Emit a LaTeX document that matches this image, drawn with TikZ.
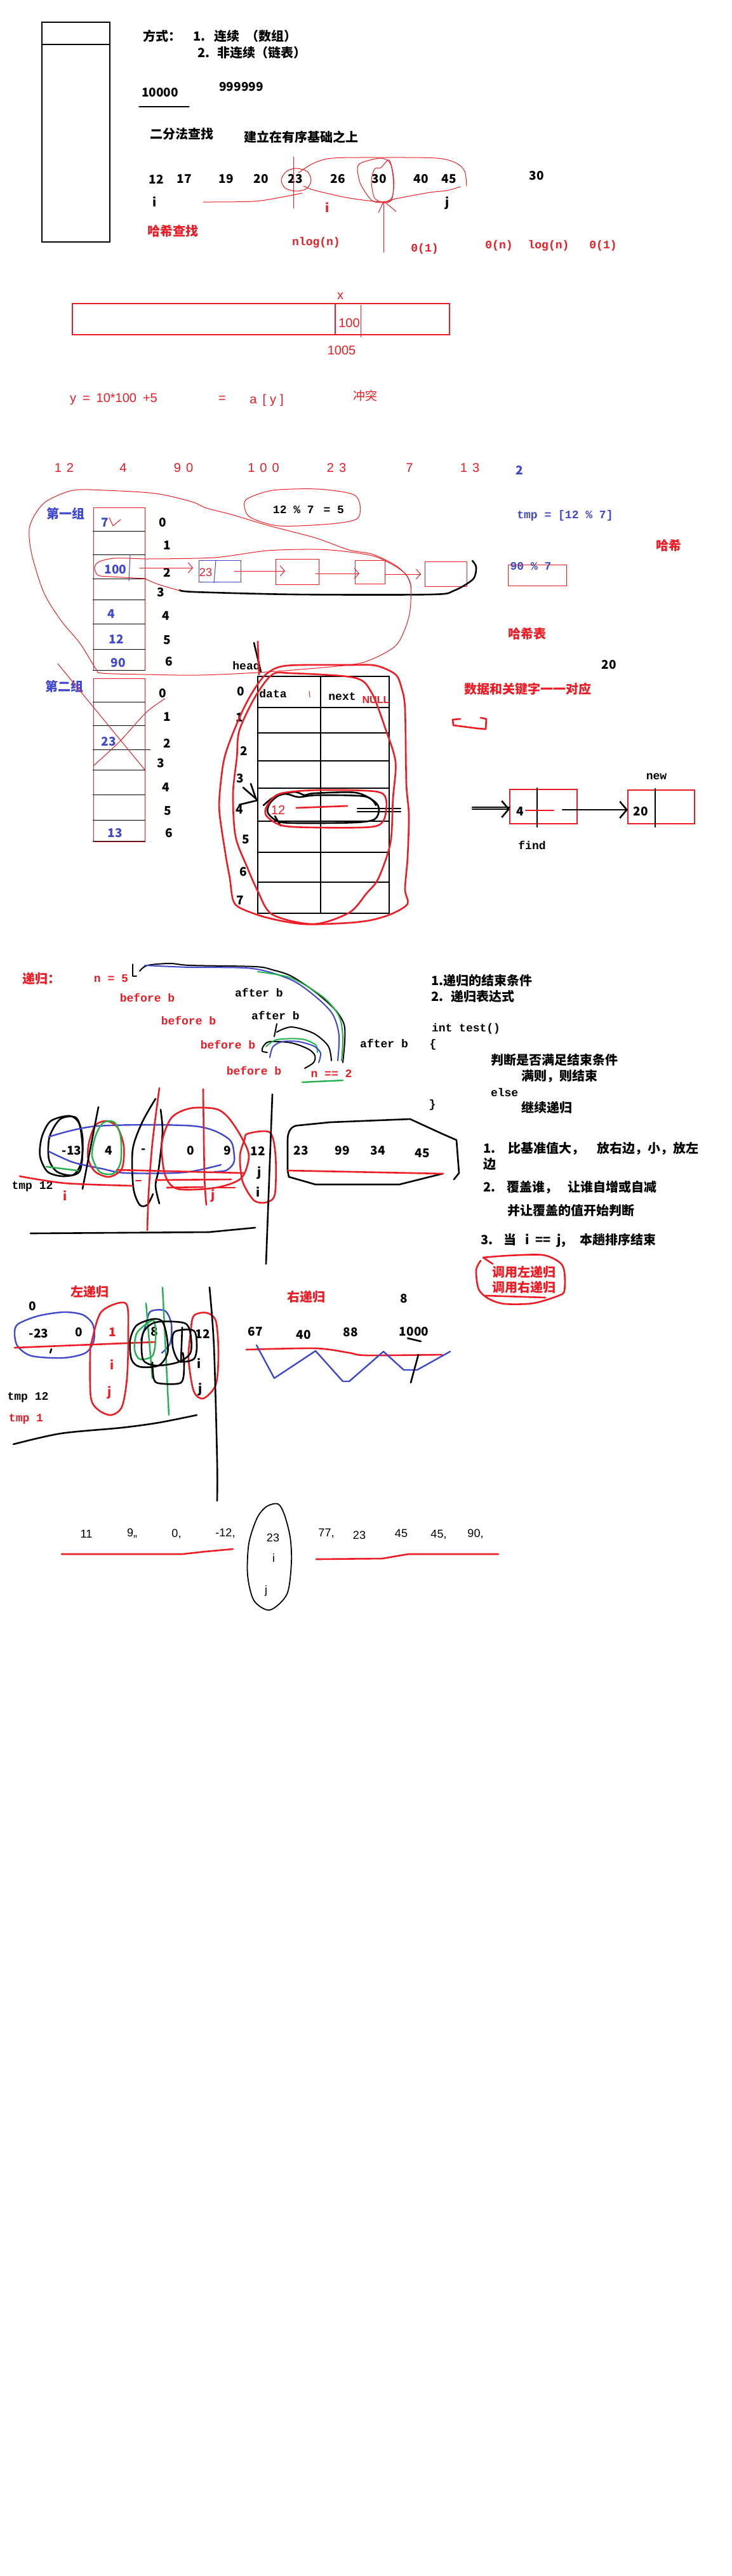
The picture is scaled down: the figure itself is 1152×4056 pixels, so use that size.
\documentclass[tikz,border=0pt]{standalone}
\usepackage{fontspec}
\setmainfont{Liberation Sans}
\newfontfamily\cjkf{Noto Sans CJK SC}
\newfontfamily\monof{Liberation Mono}
\usetikzlibrary{arrows.meta}
\definecolor{pr}{RGB}{237,28,36}
\definecolor{pb}{RGB}{63,72,204}
\definecolor{pg}{RGB}{34,177,76}
\tikzset{
 tx/.style={inner sep=0pt, outer sep=0pt},
 cn/.style={tx, font=\cjkf\bfseries\fontsize{20}{24}\selectfont},
 cnr/.style={tx, font=\cjkf\fontsize{19}{22}\selectfont},
 nm/.style={tx, font=\cjkf\bfseries\fontsize{19}{22}\selectfont},
 mo/.style={tx, font=\monof\bfseries\fontsize{18}{20}\selectfont},
 ar/.style={tx, font=\fontsize{18}{20}\selectfont},
 arl/.style={tx, font=\fontsize{20}{22}\selectfont},
 arb/.style={tx, font=\bfseries\fontsize{16}{18}\selectfont},
 sR1/.style={draw=pr, line width=1pt, line cap=round, line join=round},
 sR3/.style={draw=pr, line width=2.6pt, line cap=round, line join=round},
 sK1/.style={draw=black, line width=1.2pt, line cap=round},
 sK3/.style={draw=black, line width=2.6pt, line cap=round, line join=round},
 sB1/.style={draw=pb, line width=1pt},
 sB3/.style={draw=pb, line width=2.4pt, line cap=round, line join=round},
 sG3/.style={draw=pg, line width=2.4pt, line cap=round, line join=round},
 barb/.style={-{Straight Barb[length=7pt,width=16pt]}},
 kbarb/.style={-{Straight Barb[length=11pt,width=26pt]}},
}
\begin{document}
\begin{tikzpicture}[x=1pt,y=-1pt]
\useasboundingbox (0,0) rectangle (1152,4056);
\fill[white] (0,0) rectangle (1152,4056);

%% ================= Section 1 =================
\draw[black, line width=1.2pt] (66,35) rectangle (173,381);
\draw[black, line width=1.2pt] (66,70) -- (173,70);
\node[cn] (fs) at (255,57) {方式：};
\node[cn, anchor=west] (fs1) at (304,57) {1.\hspace{14pt}连续\hspace{10pt}（数组）};
\node[cn, anchor=west] (fs2) at (311,83) {2.\hspace{12pt}非连续（链表）};
\node[nm] (n10000) at (252,146) {10000};
\draw[sK1] (219,168) -- (298,168);
\node[nm] (n999) at (380,137) {999999};
\node[cn] (efcz) at (286,211) {二分法查找};
\node[cn] (jlzs) at (474,216) {建立在有序基础之上};
\foreach \v/\xx in {12/246,17/290,19/356,20/411,23/465,26/532,30/597,40/663,45/707}
  \node[nm] (b\v) at (\xx,282) {\v};
\node[nm] (b30b) at (845,277) {30};
\node[nm] (bi) at (244,318) {i};
\node[nm, text=pr] (bir) at (516,327) {i};
\node[nm] (bj) at (705,320) {j};
\node[cn, text=pr] (hxcz) at (272,364) {哈希查找};
\node[mo, text=pr] (nlog) at (498,382) {nlog(n)};
\node[mo, text=pr] (o1a) at (669,392) {0(1)};
\node[mo, text=pr] (on) at (786,387) {0(n)};
\node[mo, text=pr] (logn) at (864,387) {log(n)};
\node[mo, text=pr] (o1b) at (950,387) {0(1)};
% red scribbles
\draw[sR1] (462,247) -- (462,328);
\draw[sR1] plot[smooth cycle] coordinates {(466,265)(484,270)(490,284)(483,297)(466,301)(449,296)(443,283)(451,270)};
\draw[sR1] plot[smooth] coordinates {(320,318)(400,317)(446,310)(476,304)};
\draw[sR1] plot[smooth] coordinates {(470,272)(494,257)(524,249)(600,248)(688,249)(719,257)(732,270)(735,293)};
\draw[sR1] plot[smooth] coordinates {(725,294)(704,300)(677,303)(623,313)(604,318)(551,312)(497,300)(478,293)};
\draw[sR1] plot[smooth cycle] coordinates {(570,256)(600,249)(615,258)(620,290)(616,316)(600,319)(585,315)(568,290)(563,265)};
\draw[sR1] plot[smooth cycle] coordinates {(600,264)(613,252)(620,280)(618,310)(605,318)(590,312)(585,285)(590,266)};
\draw[sR1] (604,317) -- (604,397);
\draw[sR1] (604,318) -- (596,335);
\draw[sR1] (606,318) -- (624,333);

%% ================= Section 2 =================
\draw[draw=pr, line width=1.4pt] (114,478) rectangle (708,527);
\draw[draw=pr, line width=1.2pt] (528,478) -- (528,527);
\draw[draw=pr, line width=0.8pt] (568,480) -- (568,531);
\node[arl, text=pr] (ax) at (536,466) {x};
\node[arl, text=pr] (a100) at (550,509) {100};
\node[arl, text=pr] (a1005) at (538,552) {1005};
\node[arl, text=pr, anchor=west] (yeq) at (110,629) {y\hspace{10pt}=\hspace{10pt}10*100\hspace{10pt}+5};
\node[arl, text=pr] (eq) at (350,629) {=};
\node[arl, text=pr] (ay) at (420,630) {a\hspace{9pt}[\hspace{6pt}y\hspace{6pt}]};
\node[cnr, text=pr] (ct) at (575,623) {冲突};

%% ================= Section 3 =================
\node[arl, text=pr] (r12) at (101,737) {1\hspace{8pt}2};
\node[arl, text=pr] (r4) at (194,737) {4};
\node[arl, text=pr] (r90) at (289,737) {9\hspace{8pt}0};
\node[arl, text=pr] (r100) at (415,737) {1\hspace{8pt}0\hspace{8pt}0};
\node[arl, text=pr] (r23) at (530,737) {2\hspace{8pt}3};
\node[arl, text=pr] (r7) at (645,737) {7};
\node[arl, text=pr] (r13) at (740,737) {1\hspace{8pt}3};
\node[nm, text=pb] (r2) at (818,740) {2};

\node[cn, text=pb] (g1) at (103,809) {第一组};
\node[mo] (mod1) at (486,803) {12 \% 7 \hspace{4pt}= 5};
\draw[sR1] plot[smooth cycle] coordinates {(390,785)(430,772)(500,770)(555,778)(567,795)(562,817)(520,825)(440,828)(395,815)(385,798)};
\node[mo, text=pb] (tmp) at (890,812) {tmp = [12 \% 7]};
\node[cn, text=pr] (hx) at (1053,859) {哈希};

% table 1
\draw[draw=pr, line width=1pt] (147,799) rectangle (228,1055);
\foreach \yy in {836,873,911,944,982,1022,1055}
  \draw[black, line width=1pt] (146,\yy) -- (229,\yy);
\foreach \k/\xx/\yy in {0/256/823,1/263/859,2/263/901,3/253/933,4/261/970,5/263/1008,6/266/1042}
  \node[nm] (ia\k) at (\xx,\yy) {\k};
\node[nm, text=pb] (v7) at (165,823) {7};
\draw[sR1] (172,815) -- (178,828) -- (190,818);
\node[nm, text=pb] (v100) at (182,897) {100};
\node[nm, text=pb] (v4) at (175,967) {4};
\node[nm, text=pb] (v12) at (183,1006) {12};
\node[nm, text=pb] (v90) at (186,1044) {90};
\draw[sB1] (205,873) -- (203,915);
\draw[sR1] plot[smooth] coordinates {(228,880)(180,879)(155,885)(149,895)(155,906)(175,908)(230,911)};

% linked list
\node[tx, draw=pb, line width=1pt, minimum width=66pt, minimum height=34pt] (L1) at (346,899) {};
\node[ar, text=pr] (l23) at (324,901) {23};
\draw[sB1] (340,882) -- (337,918);
\node[tx, draw=pr, line width=1pt, minimum width=68pt, minimum height=40pt] (L2) at (468,900) {};
\node[tx, draw=pr, line width=1pt, minimum width=47pt, minimum height=37pt] (L3) at (582.5,900.5) {};
\node[tx, draw=pr, line width=1pt, minimum width=66pt, minimum height=39pt] (L4) at (702,903.5) {};
\coordinate (c100) at (220,894);
\coordinate (c23) at (369,899);
\coordinate (cL2) at (497,903);
\coordinate (cL3) at (606,904);
\draw[sR1, barb] (c100) -- ([xshift=-9pt]L1.west |- c100);
\draw[sR1, barb] (c23) -- ([xshift=15pt]L2.west |- c23);
\draw[sR1, barb] (cL2) -- ([xshift=7pt]L3.west |- cL2);
\draw[sR1, barb] (cL3) -- ([xshift=-6pt]L4.west |- cL3);
\draw[sK3] plot[smooth] coordinates {(283,929)(306,932)(467,936)(679,936)(715,930)(745,912)(750,893)(744,883)};
\node[tx, draw=pr, line width=1pt, minimum width=92pt, minimum height=33pt] (m90) at (846,905.5) {};
\node[mo, text=pb] (t90) at (836,892) {90 \% 7};

\draw[sR1] plot[smooth cycle] coordinates {(75,788)(115,772)(165,772)(245,777)(302,790)(325,800)(364,810)(421,827)(497,847)(550,866)(588,873)(627,893)(646,917)(646,960)(638,990)(623,1017)(588,1037)(550,1047)(421,1058)(314,1063)(230,1062)(161,1060)(151,1053)(126,1013)(96,977)(69,933)(50,873)(46,833)(57,807)};
\draw[sR1] plot[smooth] coordinates {(228,911)(249,920)(283,930)};
\draw[sR1] plot[smooth] coordinates {(230,880)(337,878)(421,867)(500,865)(550,869)(590,876)(620,890)(640,905)(648,925)};

\node[cn, text=pr] (hxb) at (830,998) {哈希表};
\node[nm] (n20) at (959,1047) {20};
\node[cn, text=pr] (sjgj) at (831,1085) {数据和关键字一一对应};

% table 2
\node[cn, text=pb] (g2) at (101,1081) {第二组};
\draw[draw=pr, line width=1pt] (147,1068) rectangle (228,1325);
\foreach \yy in {1105,1142,1212,1251,1291,1324}
  \draw[black, line width=1pt] (146,\yy) -- (229,\yy);
\draw[black, line width=1pt] (146,1180) -- (237,1180);
\foreach \k/\xx/\yy in {0/256/1092,1/263/1129,2/263/1170,3/253/1202,4/261/1240,5/264/1277,6/266/1312}
  \node[nm] (ib\k) at (\xx,\yy) {\k};
\node[nm, text=pb] (w23) at (171,1168) {23};
\node[nm, text=pb] (w13) at (181,1312) {13};
\draw[sR1] (91,1045) -- (228,1212);
\draw[sR1] plot[smooth] coordinates {(147,1206)(188,1168)(230,1122)(260,1100)};

% black hash table
\node[mo] (head) at (388,1048) {head};
\foreach \yy in {1065,1114,1154,1198,1241,1293,1342,1389,1438}
  \draw[sK3] (406,\yy) -- (613,\yy);
\foreach \xx in {406,505,613}
  \draw[sK3] (\xx,1065) -- (\xx,1438);
\foreach \k/\xx/\yy in {0/379/1089,1/377/1130,2/384/1182,3/378/1226,4/377/1275,5/387/1322,6/383/1373,7/378/1418}
  \node[nm] (ic\k) at (\xx,\yy) {\k};
\node[mo] (data) at (430,1092) {data};
\node[mo] (next) at (539,1097) {next};
\node[arb, text=pr] (null) at (592,1102) {NULL};
\draw[sR1] (487,1088) -- (488,1098);
\draw[sK3] (400,1012) -- (411,1058);
\draw[sR3] (406,1010) -- (408,1062);
% row 4 scribbles
\draw[sK3] plot[smooth cycle] coordinates {(425,1265)(440,1252)(465,1247)(480,1252)(495,1249)(560,1248)(590,1262)(597,1275)(590,1290)(560,1295)(480,1296)(440,1294)(422,1280)};
\draw[sK3] plot[smooth] coordinates {(415,1268)(430,1256)(450,1250)(470,1255)(500,1252)(575,1254)(592,1268)};
\draw[sK3] (563,1273) -- (631,1273);
\draw[sK3] (563,1278) -- (631,1278);
\draw[sK3] (383,1240) -- (406,1260);
\draw[sK3] (395,1234) -- (403,1257);
\draw[sK3] (377,1267) -- (406,1260);
\draw[sK3] (433,1285) -- (442,1300);
\draw[sR3] plot[smooth cycle] coordinates {(420,1270)(440,1250)(500,1244)(590,1246)(608,1258)(605,1290)(585,1302)(500,1303)(445,1300)(420,1285)};
\node[arl, text=pr] (c12) at (438,1275) {12};
\draw[sR3] (467,1272) -- (547,1269);
% big red loops
\draw[sR3] plot[smooth cycle] coordinates {(421,1060)(452,1048)(550,1047)(592,1048)(623,1062)(633,1085)(638,1117)(640,1233)(644,1283)(642,1350)(638,1400)(642,1423)(619,1438)(588,1448)(550,1453)(478,1455)(421,1445)(379,1430)(367,1417)(362,1383)(356,1350)(346,1283)(346,1250)(352,1200)(362,1167)(383,1117)(402,1083)};
\draw[sR3] plot[smooth cycle] coordinates {(429,1062)(459,1060)(558,1067)(585,1090)(608,1150)(623,1200)(619,1257)(615,1327)(596,1383)(577,1407)(550,1437)(494,1455)(429,1440)(406,1403)(390,1367)(371,1317)(367,1250)(373,1193)(377,1150)(402,1097)};

% small bracket
\draw[sR3] (725,1132) -- (713,1133) -- (714,1142) -- (753,1147) -- (765,1148) -- (766,1132) -- (757,1130);

% find / new nodes
\node[tx, draw=pr, line width=2.5pt, minimum width=106pt, minimum height=54pt] (B4) at (856,1270) {};
\draw[sK3] (846,1241) -- (846,1302);
\node[nm] (v4b) at (819,1278) {4};
\draw[sR3] (828,1276) -- (872,1276);
\node[mo] (find) at (838,1331) {find};
\node[tx, draw=pr, line width=2.5pt, minimum width=105pt, minimum height=53pt] (B20) at (1041.5,1270.5) {};
\draw[sK3] (1032,1242) -- (1032,1302);
\node[nm] (v20b) at (1009,1278) {20};
\node[mo] (new) at (1034,1223) {new};
\coordinate (in4) at (744,1274);
\draw[sK3] ([yshift=3pt]in4) -- ([yshift=3pt]B4.west |- in4);
\draw[sK3, kbarb] (in4) -- (B4.west |- in4);
\coordinate (o4) at (886,1275);
\draw[sK3, kbarb] (o4) -- (B20.west |- o4);

%% ================= Section 4 =================
\node[cn, text=pr] (dg) at (65,1541) {递归：};
\node[mo, text=pr] (n5) at (175,1541) {n = 5};
\node[mo, text=pr] (bb1) at (232,1571) {before b};
\node[mo, text=pr] (bb2) at (297,1607) {before b};
\node[mo, text=pr] (bb3) at (359,1645) {before b};
\node[mo, text=pr] (bb4) at (400,1686) {before b};
\node[mo, text=pr] (n2) at (522,1690) {n == 2};
\node[mo] (ab1) at (408,1563) {after b};
\node[mo] (ab2) at (434,1599) {after b};
\node[mo] (ab3) at (605,1643) {after b};
\draw[sK3, line width=2pt] (209,1518) -- (209,1537) -- (215,1537);
\draw[sK3, line width=2pt] plot[smooth] coordinates {(220,1529)(232,1520)(268,1517)(300,1520)(402,1522)(429,1527)(459,1537)(498,1563)(528,1590)(542,1613)(543,1640)(540,1673)};
\draw[sB3, line width=2pt] plot[smooth] coordinates {(228,1520)(298,1523)(398,1525)(459,1543)(498,1570)(524,1597)(534,1630)(532,1670)};
\draw[sG3, line width=2pt] plot[smooth] coordinates {(406,1530)(459,1540)(509,1570)(534,1600)(540,1633)(538,1670)};
\draw[sK3, line width=2pt] (436,1612) -- (432,1632);
\draw[sK3, line width=2pt] plot[smooth] coordinates {(436,1625)(459,1617)(494,1627)(517,1647)(522,1670)};
\draw[sK3, line width=2pt] plot[smooth] coordinates {(480,1682)(494,1673)(496,1662)(486,1652)(459,1642)(425,1640)(415,1647)(413,1655)(421,1657)};
\draw[sG3, line width=2pt] plot[smooth] coordinates {(419,1648)(436,1637)(475,1636)(497,1645)(500,1657)};
\draw[sB3, line width=2pt] plot[smooth] coordinates {(425,1665)(430,1648)(445,1640)(470,1640)(494,1647)(505,1658)(502,1673)};
\draw[sG3] (476,1704) -- (540,1701);

% quick sort row
\foreach \nm/\v/\xx in {q1/-13/113,q2/4/171,q3/-/226,q4/0/300,q5/9/358,q6/12/406,q7/23/474,q8/99/539,q9/34/595}
  \node[nm] (\nm) at (\xx,1812) {\v};
\node[nm] (q10) at (665,1816) {45};
\node[nm] (qj) at (409,1847) {j};
\node[nm] (qi) at (407,1877) {i};
\node[mo] (tmp12) at (51,1868) {tmp 12};
\node[nm, text=pr] (qir) at (103,1883) {i};
\node[nm, text=pr] (qjr) at (336,1883) {j};
\draw[sK3] plot[smooth cycle] coordinates {(66,1790)(80,1765)(110,1757)(125,1770)(130,1810)(125,1845)(100,1852)(75,1845)(63,1820)};
\draw[sK3] plot[smooth cycle] coordinates {(78,1790)(95,1762)(120,1760)(130,1790)(128,1830)(115,1850)(90,1845)(77,1825)};
\draw[sG3] (73,1837) -- (122,1843);
\draw[sB3] plot[smooth] coordinates {(77,1790)(153,1773)(306,1773)(360,1793)(369,1820)(367,1833)(356,1843)(337,1845)};
\draw[sB3] plot[smooth] coordinates {(77,1813)(115,1830)(160,1840)(199,1847)(290,1846)(348,1834)};
\draw[sR3] plot[smooth cycle] coordinates {(140,1800)(150,1772)(168,1765)(185,1775)(195,1805)(192,1840)(172,1853)(150,1845)(139,1825)};
\draw[sG3] plot[smooth cycle] coordinates {(150,1790)(162,1768)(180,1767)(190,1790)(190,1830)(178,1848)(157,1845)(145,1820)};
\draw[sK3] plot[smooth] coordinates {(245,1730)(224,1767)(209,1810)(210,1870)(220,1897)(232,1897)(241,1880)};
\draw[sK3] plot[smooth] coordinates {(253,1747)(256,1783)(250,1840)(245,1867)(251,1895)};
\draw[sR3] plot[smooth cycle] coordinates {(270,1760)(300,1745)(340,1746)(360,1760)(380,1790)(392,1820)(380,1855)(340,1870)(280,1872)(260,1850)(255,1800)};
\draw[sR3] plot[smooth cycle] coordinates {(390,1785)(425,1783)(434,1820)(433,1880)(420,1893)(400,1890)(382,1860)(378,1820)(385,1795)};
\draw[sR3] plot[smooth] coordinates {(251,1713)(240,1800)(234,1880)(232,1937)};
\draw[sR3] plot[smooth] coordinates {(320,1715)(322,1850)(325,1897)};
\draw[sK3] (429,1723) -- (419,1990);
\draw[sK3] (155,1743) -- (130,1872);
\draw[sK3] (48,1942) -- (329,1940) -- (402,1933);
\draw[sR3] plot[smooth] coordinates {(31,1852)(103,1863)(209,1867)};
\draw[sR3] (184,1842) -- (383,1847);
\draw[sR3] (245,1858) -- (364,1857);
\draw[sR3] (263,1870) -- (320,1869);
\draw[sR3] (336,1870) -- (370,1870);
\draw[sR3] (214,1859) -- (222,1859);
\draw[sK3] (453,1843) -- (453,1795) .. controls (453,1780) and (460,1772) .. (470,1772) -- (520,1767) -- (646,1762) -- (696,1785) -- (719,1795) -- (723,1847) -- (715,1857);
\draw[sK3] (697,1848) -- (629,1865) -- (497,1865) -- (455,1853) -- (453,1843);
\draw[sR3] (453,1843) -- (698,1848);

% right text
\node[cn, anchor=west] (rt1) at (679,1544) {1.递归的结束条件};
\node[cn, anchor=west] (rt2) at (679,1569) {2.\hspace{12pt}递归表达式};
\node[mo, anchor=west] (it) at (680,1620) {int test()};
\node[mo] (lb) at (682,1645) {\{};
\node[cn, anchor=west] (pd) at (773,1669) {判断是否满足结束条件};
\node[cn, anchor=west] (mz) at (821,1694) {满则，则结束};
\node[mo, anchor=west] (el) at (773,1720) {else};
\node[mo] (rb) at (681,1740) {\}};
\node[cn, anchor=west] (jx) at (821,1744) {继续递归};
\node[cn, anchor=west] (p1) at (761,1808) {1.\hspace{20pt}比基准值大，\hspace{20pt}放右边，小，放左};
\node[cn, anchor=west] (p1b) at (761,1833) {边};
\node[cn, anchor=west] (p2) at (761,1869) {2.\hspace{18pt}覆盖谁，\hspace{16pt}让谁自增或自减};
\node[cn, anchor=west] (p2b) at (799,1906) {并让覆盖的值开始判断};
\node[cn, anchor=west] (p3) at (757,1953) {3.\hspace{17pt}当\hspace{14pt}i\hspace{10pt}==\hspace{10pt}j,\hspace{22pt}本趟排序结束};
\node[cn, text=pr] (dyl) at (825,2003) {调用左递归};
\node[cn, text=pr] (dyr) at (825,2027) {调用右递归};
\draw[sR3] plot[smooth] coordinates {(761,1980)(800,1977)(855,1976)(882,1988)(889,2003)(889,2032)(880,2040)(840,2052)(795,2053)(770,2045)(754,2030)(750,2000)(757,1985)};
\draw[sR3] (761,1980) -- (776,1990);
\draw[sR3] (765,2040) -- (859,2043);

%% ================= Section 5 =================
\node[cn, text=pr] (zdg) at (141,2034) {左递归};
\node[cn, text=pr] (ydg) at (482,2042) {右递归};
\node[nm] (z0) at (51,2057) {0};
\node[nm] (zm23) at (61,2100) {-23};
\node[nm] (z0b) at (124,2098) {0};
\node[nm, text=pr] (z1) at (177,2098) {1};
\node[nm] (z8) at (243,2097) {8};
\node[nm] (z12) at (319,2100) {12};
\node[nm, text=pr] (zi) at (177,2149) {i};
\node[nm, text=pr] (zj) at (173,2193) {j};
\node[nm] (zib) at (314,2147) {i};
\node[nm] (zjb) at (316,2188) {j};
\node[mo] (ztmp) at (44,2200) {tmp 12};
\node[mo, text=pr] (ztmp1) at (41,2234) {tmp 1};
\draw[sB3] plot[smooth cycle] coordinates {(28,2085)(60,2072)(100,2066)(130,2070)(146,2085)(148,2110)(135,2130)(100,2138)(50,2135)(28,2120)(23,2100)};
\draw[sK3] (81,2124) -- (79,2130);
\draw[sR3] (23,2122) -- (245,2113);
\draw[sR3] plot[smooth cycle] coordinates {(145,2110)(160,2065)(198,2052)(202,2100)(200,2170)(192,2215)(175,2228)(155,2220)(143,2200)(142,2130)};
\draw[sR3] plot[smooth cycle] coordinates {(305,2072)(325,2067)(340,2080)(344,2130)(340,2180)(320,2202)(305,2190)(297,2140)(300,2100)};
\draw[sB3] plot[smooth] coordinates {(222,2110)(230,2085)(237,2065)(260,2064)(270,2085)(268,2115)(255,2130)};
\draw[sG3] plot[smooth cycle] coordinates {(215,2100)(230,2085)(243,2080)(245,2110)(240,2135)(220,2140)(212,2125)};
\draw[sG3] (230,2052) -- (240,2170);
\draw[sG3] (256,2027) -- (266,2228);
\draw[sK3] plot[smooth cycle] coordinates {(205,2110)(215,2087)(240,2077)(255,2080)(262,2100)(264,2130)(250,2150)(220,2152)(207,2140)};
\draw[sK3] plot[smooth cycle] coordinates {(225,2100)(245,2082)(290,2083)(300,2100)(300,2130)(280,2145)(245,2150)(225,2140)};
\draw[sK3] plot[smooth] coordinates {(240,2145)(242,2170)(250,2178)(285,2177)(290,2150)(288,2130)};
\draw[sK3] plot[smooth cycle] coordinates {(272,2120)(275,2097)(305,2095)(310,2120)(305,2140)(282,2143)};
\draw[sK3] (287,2090) -- (285,2145);
\draw[sK3] plot[smooth] coordinates {(330,2027)(337,2120)(342,2300)(342,2363)};
\draw[sK3] plot[smooth] coordinates {(21,2274)(96,2257)(191,2248)(250,2240)(310,2228)};
\node[nm] (y67) at (402,2097) {67};
\node[nm] (y40) at (478,2102) {40};
\node[nm] (y88) at (552,2098) {88};
\node[nm] (y8) at (636,2045) {8};
\node[nm] (y1000) at (652,2097) {1000};
\draw[sR3] plot[smooth] coordinates {(388,2125)(497,2123)(550,2130)(577,2134)(696,2133)};
\draw[sB3] (404,2118) -- (432,2170) -- (497,2127) -- (540,2175) -- (550,2175) -- (604,2128) -- (636,2157) -- (657,2157) -- (709,2128);
\draw[sK3] (642,2107) -- (663,2112);
\draw[sK3] (659,2133) -- (647,2177);

%% ================= Section 6 =================
\foreach \nm/\v/\xx/\yy in {s1/11/136/2415,s2/{9,,}/208/2414,s3/{0,}/278/2415,s4/{-12,}/355/2414,s5/23/430/2421,s6/{77,}/514/2414,s7/23/566/2417,s8/45/632/2414,s9/{45,}/691/2416,s10/{90,}/749/2415}
  \node[ar] (\nm) at (\xx,\yy) {\v};
\node[ar] (si) at (431,2453) {i};
\node[ar] (sj) at (419,2505) {j};
\draw[black, line width=1.8pt] plot[smooth cycle] coordinates {(438,2368)(448,2385)(457,2420)(459,2460)(452,2510)(425,2535)(400,2520)(390,2480)(392,2430)(405,2390)(420,2372)};
\draw[sR3] (97,2447) -- (287,2447) -- (323,2443) -- (367,2439);
\draw[sR3] (498,2455) -- (602,2454) -- (643,2447) -- (785,2447);
\end{tikzpicture}
\end{document}
